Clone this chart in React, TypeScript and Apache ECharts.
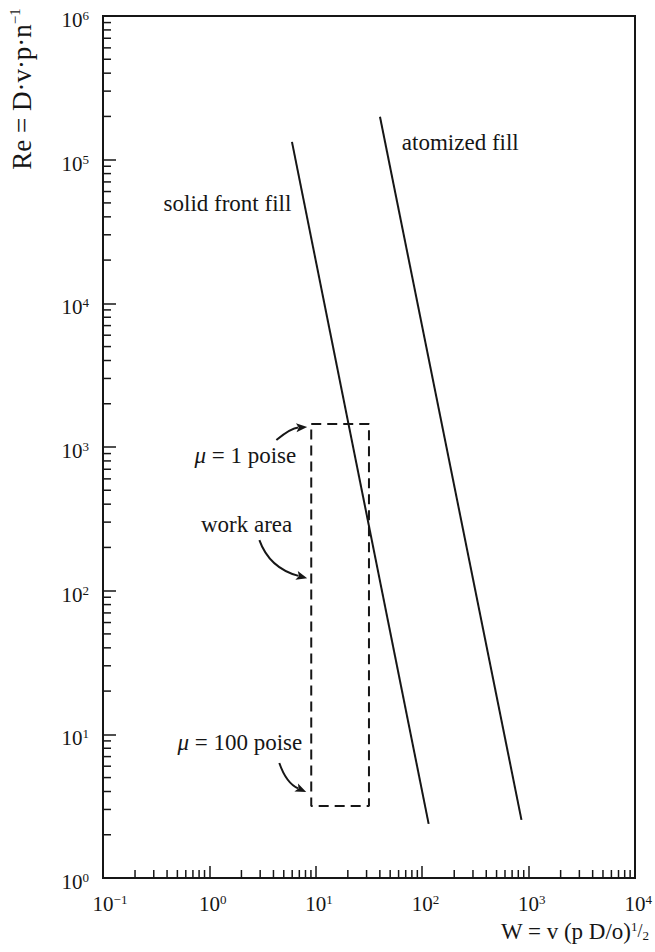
import React, { useEffect, useRef } from 'react';
import * as echarts from 'echarts';

const FONT = "'Liberation Serif', 'Times New Roman', Times, serif";
const INK = '#161616';

// Axis ranges (log-log)
const W_MIN = 0.1;
const W_MAX = 10000;
const RE_MIN = 1;
const RE_MAX = 1000000;

// Minor tick structure (2..9 within each decade)
const MINOR_MULTS = [2, 3, 4, 5, 6, 7, 8, 9];
const W_DECADES = [0.1, 1, 10, 100, 1000];
const RE_DECADES = [1, 10, 100, 1000, 10000, 100000];

// Curves
const SOLID_FRONT_W = [5.97, 115];
const SOLID_FRONT_RE = [133000, 2.38];
const ATOMIZED_W = [40.1, 857];
const ATOMIZED_RE = [199000, 2.54];

// Work area box: W from .. to, Re from mu=100 poise (bottom) to mu=1 poise (top)
const WORK_W = [9.06, 31.6];
const WORK_RE = [3.17, 1445];

// Text annotations, anchored in data coordinates
const ANNOT_TEXT = [
  '{n|atomized fill}',
  '{n|solid front fill}',
  '{i|μ}{n| = 1 poise}',
  '{n|work area}',
  '{i|μ}{n| = 100 poise}',
];
const ANNOT_W = [64.4, 5.89, 6.55, 6.01, 7.46];
const ANNOT_RE = [131000, 49900, 879, 291, 8.71];
const ANNOT_ALIGN = ['left', 'right', 'right', 'right', 'right'];

// Arrows (from, control, to) in data coordinates
const ARROW_FROM = [[4.26, 1119], [2.95, 225], [4.54, 6.32]];
const ARROW_CTRL = [[5.89, 1355], [3.66, 144], [5.28, 4.58]];
const ARROW_TO = [[8.3, 1377], [8.3, 122], [8.13, 3.97]];

const expText = (v: number) => {
  const e = Math.round(Math.log10(v));
  return e < 0 ? '−' + String(-e) : String(e);
};

const labelRich = {
  b: { fontFamily: FONT, fontSize: 21, lineHeight: 22, color: INK },
  s: { fontFamily: FONT, fontSize: 13, lineHeight: 13, color: INK, verticalAlign: 'top' },
  p1: { fontFamily: FONT, fontSize: 13, width: 6.5, lineHeight: 13 },
  p2: { fontFamily: FONT, fontSize: 13, width: 14, lineHeight: 13 },
};

export default function App() {
  const ref = useRef<HTMLDivElement>(null);

  useEffect(() => {
    document.body.style.margin = '0';
    const chart = echarts.init(ref.current!, undefined, { renderer: 'svg' });

    const wMinor: number[][] = [];
    W_DECADES.forEach((d) => MINOR_MULTS.forEach((m) => wMinor.push([d * m, RE_MIN])));
    const reMinor: number[][] = [];
    RE_DECADES.forEach((d) => MINOR_MULTS.forEach((m) => reMinor.push([W_MIN, d * m])));

    const option: any = {
      animation: false,
      backgroundColor: '#ffffff',
      grid: {
        left: 103,
        right: 18,
        top: 16,
        bottom: 74,
        show: true,
        borderColor: INK,
        borderWidth: 2,
        backgroundColor: 'transparent',
      },
      xAxis: {
        type: 'log',
        logBase: 10,
        min: W_MIN,
        max: W_MAX,
        splitNumber: 5,
        splitLine: { show: false },
        axisLine: { show: true, lineStyle: { color: INK, width: 2 } },
        axisTick: { show: true, inside: true, length: 12, lineStyle: { color: INK, width: 1.5 } },
        axisLabel: {
          margin: 15,
          showMinLabel: true,
          showMaxLabel: true,
          formatter: (v: number) => {
            const t = expText(v);
            const pad = t.length > 1 ? 'p2' : 'p1';
            return `{${pad}| }{b|10}{s|${t}}`;
          },
          rich: labelRich,
        },
      },
      yAxis: {
        type: 'log',
        logBase: 10,
        min: RE_MIN,
        max: RE_MAX,
        splitNumber: 6,
        splitLine: { show: false },
        axisLine: { show: true, lineStyle: { color: INK, width: 2 } },
        axisTick: { show: true, inside: true, length: 13, lineStyle: { color: INK, width: 1.5 } },
        axisLabel: {
          margin: 14,
          padding: [8, 0, 0, 0],
          showMinLabel: true,
          showMaxLabel: true,
          formatter: (v: number) => `{b|10}{s|${expText(v)}}`,
          rich: labelRich,
        },
      },
      series: [
        {
          type: 'line',
          name: 'solid front fill',
          data: SOLID_FRONT_W.map((w, i) => [w, SOLID_FRONT_RE[i]]),
          symbol: 'none',
          silent: true,
          lineStyle: { color: INK, width: 2 },
        },
        {
          type: 'line',
          name: 'atomized fill',
          data: ATOMIZED_W.map((w, i) => [w, ATOMIZED_RE[i]]),
          symbol: 'none',
          silent: true,
          lineStyle: { color: INK, width: 2 },
        },
        {
          type: 'line',
          name: 'work area',
          data: [
            [WORK_W[0], WORK_RE[1]],
            [WORK_W[1], WORK_RE[1]],
            [WORK_W[1], WORK_RE[0]],
            [WORK_W[0], WORK_RE[0]],
            [WORK_W[0], WORK_RE[1]],
          ],
          symbol: 'none',
          silent: true,
          lineStyle: { color: INK, width: 2, type: [10, 6] },
        },
        {
          type: 'custom',
          name: 'w minor ticks',
          data: wMinor,
          clip: false,
          silent: true,
          renderItem: (params: any, api: any) => {
            const p = api.coord([api.value(0), api.value(1)]);
            return {
              type: 'line',
              shape: { x1: p[0], y1: p[1], x2: p[0], y2: p[1] - 8 },
              style: { stroke: INK, lineWidth: 1.5 },
            };
          },
        },
        {
          type: 'custom',
          name: 're minor ticks',
          data: reMinor,
          clip: false,
          silent: true,
          renderItem: (params: any, api: any) => {
            const p = api.coord([api.value(0), api.value(1)]);
            return {
              type: 'line',
              shape: { x1: p[0], y1: p[1], x2: p[0] + 8, y2: p[1] },
              style: { stroke: INK, lineWidth: 1.5 },
            };
          },
        },
      ],
    };

    chart.setOption(option);

    const px = (d: number[]) =>
      chart.convertToPixel({ xAxisIndex: 0, yAxisIndex: 0 } as any, d) as unknown as number[];

    const graphics: any[] = [];

    ANNOT_TEXT.forEach((t, i) => {
      const p = px([ANNOT_W[i], ANNOT_RE[i]]);
      graphics.push({
        type: 'text',
        x: p[0],
        y: p[1],
        silent: true,
        style: {
          text: t,
          align: ANNOT_ALIGN[i],
          verticalAlign: 'middle',
          fill: INK,
          fontFamily: FONT,
          fontSize: 23,
          rich: {
            n: { fontFamily: FONT, fontSize: 23, fill: INK, color: INK },
            i: { fontFamily: FONT, fontSize: 23, fontStyle: 'italic', fill: INK, color: INK },
          },
        },
      });
    });

    ARROW_FROM.forEach((f, i) => {
      const a = px(f);
      const c = px(ARROW_CTRL[i]);
      const b = px(ARROW_TO[i]);
      let dx = b[0] - c[0];
      let dy = b[1] - c[1];
      const len = Math.hypot(dx, dy) || 1;
      dx /= len;
      dy /= len;
      const L = 11;
      const H = 4.5;
      const bx = b[0] - dx * L;
      const by = b[1] - dy * L;
      graphics.push({
        type: 'bezierCurve',
        silent: true,
        shape: { x1: a[0], y1: a[1], cpx1: c[0], cpy1: c[1], x2: bx + dx * 2, y2: by + dy * 2 },
        style: { stroke: INK, lineWidth: 2, fill: null },
      });
      graphics.push({
        type: 'polygon',
        silent: true,
        shape: {
          points: [
            [b[0], b[1]],
            [bx - dy * H, by + dx * H],
            [bx + dx * 2.5, by + dy * 2.5],
            [bx + dy * H, by - dx * H],
          ],
        },
        style: { fill: INK },
      });
    });

    // Axis titles
    graphics.push({
      type: 'text',
      x: 22,
      y: 89,
      rotation: Math.PI / 2,
      silent: true,
      style: {
        text: '{a|Re = D·v·p·n}{s|−1}',
        align: 'center',
        verticalAlign: 'middle',
        fill: INK,
        fontFamily: FONT,
        fontSize: 27,
        rich: {
          a: { fontFamily: FONT, fontSize: 27, lineHeight: 30, fill: INK, color: INK },
          s: { fontFamily: FONT, fontSize: 15, lineHeight: 15, verticalAlign: 'top', fill: INK, color: INK },
        },
      },
    });
    graphics.push({
      type: 'text',
      x: 649,
      y: 931,
      silent: true,
      style: {
        text: '{a|W = v (p D/o)}{u|1}{f|/}{d|2}',
        align: 'right',
        verticalAlign: 'middle',
        fill: INK,
        fontFamily: FONT,
        fontSize: 23,
        rich: {
          a: { fontFamily: FONT, fontSize: 23, lineHeight: 22, fill: INK, color: INK },
          u: { fontFamily: FONT, fontSize: 13, lineHeight: 12, verticalAlign: 'top', fill: INK, color: INK },
          f: { fontFamily: FONT, fontSize: 18, lineHeight: 22, fill: INK, color: INK },
          d: { fontFamily: FONT, fontSize: 13, lineHeight: 12, verticalAlign: 'bottom', fill: INK, color: INK },
        },
      },
    });

    chart.setOption({ graphic: graphics });

    return () => chart.dispose();
  }, []);

  return (
    <div
      ref={ref}
      style={{ position: 'absolute', left: 0, top: 0, width: 655, height: 952, background: '#fff' }}
    />
  );
}
